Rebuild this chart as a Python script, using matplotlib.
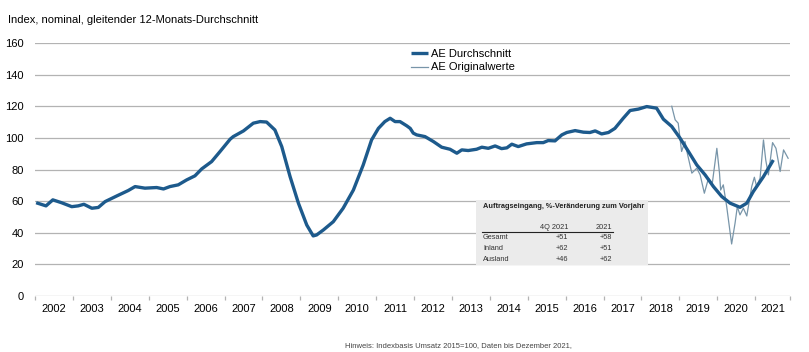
import matplotlib
matplotlib.use("Agg")
import matplotlib.pyplot as plt
from matplotlib.patches import Rectangle

plt.rcParams['font.family'] = ['Liberation Sans', 'DejaVu Sans']

# gleitender 12-Monats-Durchschnitt (Jahr als Dezimalzahl, Indexwert)
avg_t = [2002.03, 2002.29, 2002.47, 2002.70, 2002.97, 2003.14, 2003.29, 2003.50, 2003.67, 2003.85,
         2004.16, 2004.46, 2004.64, 2004.90, 2005.21, 2005.39, 2005.56, 2005.78, 2006.00, 2006.22,
         2006.40, 2006.66, 2006.88, 2007.15, 2007.23, 2007.50, 2007.76, 2007.94, 2008.11, 2008.33,
         2008.51, 2008.73, 2008.95, 2009.17, 2009.34, 2009.43, 2009.61, 2009.87, 2010.13, 2010.40,
         2010.66, 2010.88, 2011.06, 2011.23, 2011.37, 2011.50, 2011.63, 2011.81, 2011.90, 2011.98,
         2012.07, 2012.29, 2012.51, 2012.73, 2012.95, 2013.13, 2013.26, 2013.43, 2013.65, 2013.79,
         2013.96, 2014.14, 2014.31, 2014.45, 2014.58, 2014.75, 2014.97, 2015.24, 2015.41, 2015.54,
         2015.72, 2015.90, 2016.03, 2016.25, 2016.47, 2016.64, 2016.78, 2016.95, 2017.13, 2017.30,
         2017.52, 2017.70, 2017.92, 2018.14, 2018.40, 2018.58, 2018.80, 2019.02, 2019.24, 2019.46,
         2019.68, 2019.90, 2020.12, 2020.34, 2020.60, 2020.78, 2020.95, 2021.22, 2021.48]
avg_v = [59.0, 57.0, 60.8, 59.0, 56.5, 57.0, 58.0, 55.5, 56.0, 59.7,
         63.3, 66.7, 69.2, 68.2, 68.6, 67.7, 69.2, 70.3, 73.4, 76.0,
         80.4, 85.0, 91.3, 99.2, 100.8, 104.4, 109.3, 110.3, 110.0, 105.0,
         94.5, 75.5, 58.7, 44.9, 38.0, 38.6, 41.8, 47.0, 55.5, 67.0,
         82.9, 98.7, 106.0, 110.3, 112.4, 110.3, 110.3, 107.6, 106.0, 103.0,
         101.9, 100.8, 97.7, 94.1, 92.8, 90.3, 92.4, 92.0, 92.8, 94.1,
         93.4, 94.9, 93.2, 93.7, 96.0, 94.5, 96.2, 97.0, 97.0, 98.3,
         98.1, 101.9, 103.4, 104.6, 103.6, 103.4, 104.4, 102.5, 103.4, 106.0,
         112.4, 117.3, 118.2, 119.8, 118.8, 111.8, 107.2, 99.8, 91.4, 82.9,
         76.6, 69.2, 62.9, 58.7, 56.1, 58.7, 66.0, 75.5, 86.0]

# Originalwerte
orig_t = [2018.80, 2018.89, 2018.97, 2019.06, 2019.15, 2019.21, 2019.33, 2019.46, 2019.55, 2019.66,
          2019.77, 2019.87, 2019.99, 2020.06, 2020.09, 2020.16, 2020.25, 2020.38, 2020.47, 2020.53,
          2020.60, 2020.69, 2020.78, 2020.91, 2020.98, 2021.04, 2021.13, 2021.22, 2021.28, 2021.35,
          2021.46, 2021.55, 2021.66, 2021.75, 2021.87]
orig_v = [120.0, 111.4, 109.3, 91.4, 97.7, 90.3, 77.7, 80.8, 76.6, 65.0,
          74.5, 71.3, 93.4, 77.7, 67.0, 70.3, 56.5, 32.9, 46.0, 56.5,
          51.3, 55.5, 50.6, 69.2, 75.1, 69.2, 74.5, 98.7, 86.0, 76.6,
          97.0, 93.4, 78.7, 92.4, 87.1]

years = list(range(2002, 2022))
x_end = 2021.92
y_ticks = [0, 20, 40, 60, 80, 100, 120, 140, 160]

table_title = "Auftragseingang, %-Veränderung zum Vorjahr"
table_cols = ["4Q 2021", "2021"]
table_rows = ["Gesamt", "Inland", "Ausland"]
table_q4 = ["+51", "+62", "+46"]
table_year = ["+58", "+51", "+62"]

dark = '#1d5a8c'
thin = '#7895a9'
grid = '#b3b3b3'

fig = plt.figure(figsize=(8.09, 3.52), dpi=100)
ax = fig.add_axes([35 / 809, 1 - 296 / 352, (790 - 35) / 809, (296 - 43) / 352])

ax.set_xlim(2002, x_end)
ax.set_ylim(0, 160)
for v in y_ticks:
    ax.axhline(v, color=grid, lw=0.9, zorder=0)
for s in ax.spines.values():
    s.set_visible(False)

ax.set_yticks(y_ticks)
ax.tick_params(axis='y', length=0, labelsize=8, pad=8, colors='#000000')

bounds = years + [x_end]
ax.set_xticks(bounds)
ax.set_xticklabels([])
ax.tick_params(axis='x', which='major', length=3, color=grid, width=0.9, direction='out')
mids = [(bounds[i] + bounds[i + 1]) / 2 for i in range(len(years))]
ax.set_xticks(mids, minor=True)
ax.set_xticklabels([str(y) for y in years], minor=True, fontsize=8)
ax.tick_params(axis='x', which='minor', length=0, pad=6)

ax.plot(orig_t, orig_v, color=thin, lw=0.9, label='AE Originalwerte', zorder=2)
ax.plot(avg_t, avg_v, color=dark, lw=2.4, label='AE Durchschnitt', zorder=3,
        solid_capstyle='butt', solid_joinstyle='round')

h, l = ax.get_legend_handles_labels()
leg = ax.legend(h[::-1], l[::-1], loc='upper left', bbox_to_anchor=((405 - 35) / 755, 1.0),
                frameon=False, fontsize=8, handlelength=1.6, handletextpad=0.2,
                labelspacing=0.35, borderaxespad=0.1)

# kleine Tabelle
box = Rectangle((476 / 809, 1 - 265 / 352), (648 - 476) / 809, (265 - 200) / 352,
                transform=fig.transFigure, facecolor='#ebebeb', edgecolor='none', zorder=4)
fig.patches.append(box)

def fy(py):
    return 1 - py / 352

tkw = dict(va='center', color='#333333', zorder=6)
fig.text(483 / 809, fy(206), table_title, fontsize=5.3, fontweight='bold', va='center',
         color='#222222', zorder=6)
fig.text(568 / 809, fy(227.5), table_cols[0], fontsize=5.3, ha='right', **tkw)
fig.text(612 / 809, fy(227.5), table_cols[1], fontsize=5.3, ha='right', **tkw)
fig.add_artist(plt.Line2D([482 / 809, 613 / 809], [fy(231.8), fy(231.8)],
                          transform=fig.transFigure, color='#222222', lw=0.8, zorder=6))
for i, name in enumerate(table_rows):
    yy = fy(237.7 + i * 10.7)
    fig.text(483 / 809, yy, name, fontsize=5.3, **tkw)
    fig.text(568 / 809, yy, table_q4[i], fontsize=5.3, ha='right', **tkw)
    fig.text(612 / 809, yy, table_year[i], fontsize=5.3, ha='right', **tkw)

fig.text(8 / 809, fy(20), "Index, nominal, gleitender 12-Monats-Durchschnitt", fontsize=8, va='center')
fig.text(345 / 809, fy(346), "Hinweis: Indexbasis Umsatz 2015=100, Daten bis Dezember 2021,",
         fontsize=5.5, va='center', color='#444444')

fig.savefig('out.png', dpi=100)
